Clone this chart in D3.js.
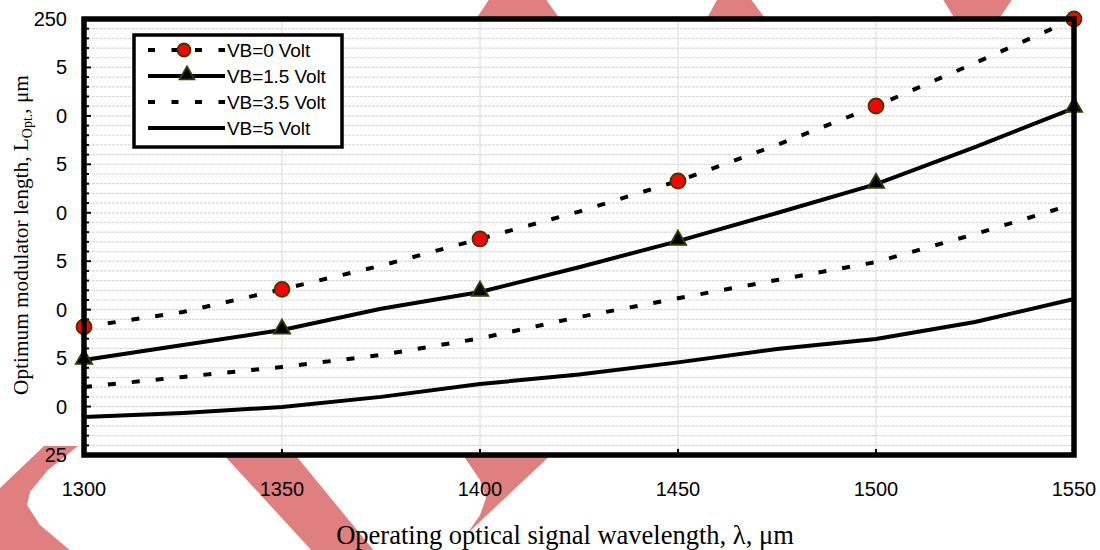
<!DOCTYPE html>
<html>
<head>
<meta charset="utf-8">
<script src="https://cdn.jsdelivr.net/npm/d3@7"></script>
<style>
  html, body { margin: 0; padding: 0; background: #fff; }
  svg { display: block; }
</style>
</head>
<body>
<svg id="chart" width="1100" height="550"></svg>
<script>
// Wavelength samples (nm) and optimum modulator length for each bias voltage
const wavelengths = [1300, 1325, 1350, 1375, 1400, 1425, 1450, 1475, 1500, 1525, 1550];
const vb0  = [91.1, 98.8, 110.5, 122.7, 136.5, 150.6, 166.4, 185.0, 205.1, 227.3, 250.0];
const vb15 = [74.0, 81.8, 89.5, 100.5, 109.1, 121.9, 135.4, 149.9, 164.8, 183.9, 204.0];
const vb35 = [60.1, 65.3, 70.4, 76.6, 85.2, 96.2, 105.9, 115.3, 124.6, 139.0, 154.5];
const vb5  = [44.6, 46.7, 49.8, 55.0, 61.6, 66.6, 72.8, 79.7, 84.9, 93.6, 105.5];

// Wavelengths that carry a marker
const markerWavelengths = [1300, 1350, 1400, 1450, 1500, 1550];

// Axis ticks and their printed labels
const xTicks = [1300, 1350, 1400, 1450, 1500, 1550];
const yTicks = [25, 50, 75, 100, 125, 150, 175, 200, 225, 250];
const yTickLabels = ["25", "0", "5", "0", "5", "0", "5", "0", "5", "250"];

const seriesNames = ["VB=0 Volt", "VB=1.5 Volt", "VB=3.5 Volt", "VB=5 Volt"];

const svg = d3.select("#chart");
const plotL = 84, plotR = 1074, plotT = 19, plotB = 455;

const x = d3.scaleLinear().domain([1300, 1550]).range([plotL, plotR]);
const y = d3.scaleLinear().domain([25, 250]).range([plotB, plotT]);

// Decorative salmon bands behind the plot
const bandColor = "#df7f7f";
const bands = [
  [[490, -2], [545, -2], [562, 22], [474, 22]],
  [[718, -2], [750, -2], [768, 22], [705, 22]],
  [[942, -2], [1013, -2], [997, 22], [957, 22]],
  [[221, 452], [293, 452], [375, 552], [313, 552]],
  [[461, 452], [554, 452], [467, 534], [480, 515], [486, 498], [480, 480]],
  [[44, 446], [78, 446], [48, 470], [30, 492], [27, 505], [40, 525], [72, 552], [0, 552], [0, 488]]
];
svg.append("g").selectAll("path").data(bands).join("path")
  .attr("d", d => d3.line()(d) + "Z")
  .attr("fill", bandColor);

// Plot area background
svg.append("rect").attr("x", plotL).attr("y", plotT)
  .attr("width", plotR - plotL).attr("height", plotB - plotT).attr("fill", "#fff");

// Minor horizontal gridlines every 5 units
const minorY = d3.range(30, 250, 5);
svg.append("g").selectAll("line").data(minorY).join("line")
  .attr("x1", plotL).attr("x2", plotR)
  .attr("y1", d => y(d)).attr("y2", d => y(d))
  .attr("stroke", "#d9d9d9").attr("stroke-width", 1.2)
  .attr("stroke-dasharray", "3,1");

// Vertical gridlines at major x ticks
svg.append("g").selectAll("line").data(xTicks.slice(1, -1)).join("line")
  .attr("x1", d => x(d)).attr("x2", d => x(d))
  .attr("y1", plotT).attr("y2", plotB)
  .attr("stroke", "#d9d9d9").attr("stroke-width", 1);

// Inward tick marks
const yMinorAll = d3.range(25, 251, 5);
svg.append("g").selectAll("line").data(yMinorAll).join("line")
  .attr("x1", plotL).attr("x2", d => plotL + (d % 25 === 0 ? 7 : 5))
  .attr("y1", d => y(d)).attr("y2", d => y(d))
  .attr("stroke", "#000").attr("stroke-width", 2);
svg.append("g").selectAll("line").data(xTicks).join("line")
  .attr("x1", d => x(d)).attr("x2", d => x(d))
  .attr("y1", plotB).attr("y2", plotB - 6)
  .attr("stroke", "#000").attr("stroke-width", 2);

// Series lines
const line = d3.line().x((d, i) => x(wavelengths[i])).y(d => y(d));
const seriesData = [vb0, vb15, vb35, vb5];
const dashes = ["8,16", null, "8,16", null];
seriesData.forEach((s, k) => {
  svg.append("path").datum(s)
    .attr("d", line)
    .attr("fill", "none")
    .attr("stroke", "#000")
    .attr("stroke-width", 4)
    .attr("stroke-dasharray", dashes[k]);
});

// Markers
const triangle = d3.symbol().type(d3.symbolTriangle).size(115);
const markerIdx = markerWavelengths.map(w => wavelengths.indexOf(w));
svg.append("g").selectAll("path").data(markerIdx).join("path")
  .attr("d", triangle)
  .attr("transform", i => `translate(${x(wavelengths[i])},${y(vb15[i]) - 1})`)
  .attr("fill", "#000").attr("stroke", "#3b3b00").attr("stroke-width", 1.8);
svg.append("g").selectAll("circle").data(markerIdx).join("circle")
  .attr("cx", i => x(wavelengths[i])).attr("cy", i => y(vb0[i]))
  .attr("r", 7.5)
  .attr("fill", "#ff0000").attr("stroke", "#3b3b00").attr("stroke-width", 1.8);

// Plot frame
svg.append("rect").attr("x", plotL).attr("y", plotT)
  .attr("width", plotR - plotL).attr("height", plotB - plotT)
  .attr("fill", "none").attr("stroke", "#000").attr("stroke-width", 5.5);

// Tick labels
svg.append("g").selectAll("text").data(xTicks).join("text")
  .attr("x", d => x(d)).attr("y", 496)
  .attr("text-anchor", "middle")
  .attr("font-family", "Liberation Sans, Arial, sans-serif")
  .attr("font-size", 20)
  .text(d => d);
svg.append("g").selectAll("text").data(yTicks).join("text")
  .attr("x", 67).attr("y", d => y(d) + 7)
  .attr("text-anchor", "end")
  .attr("font-family", "Liberation Sans, Arial, sans-serif")
  .attr("font-size", 20)
  .text((d, i) => yTickLabels[i]);

// Axis titles
svg.append("text")
  .attr("x", 565).attr("y", 544)
  .attr("text-anchor", "middle")
  .attr("font-family", "Liberation Serif, Times New Roman, serif")
  .attr("font-size", 26.5)
  .text("Operating optical signal wavelength, λ, μm");

const yTitle = svg.append("text")
  .attr("transform", "translate(28,235) rotate(-90)")
  .attr("text-anchor", "middle")
  .attr("font-family", "Liberation Serif, Times New Roman, serif")
  .attr("font-size", 21.3);
yTitle.append("tspan").text("Optimum modulator length, L");
yTitle.append("tspan").attr("font-size", 14).attr("dy", 4).text("Opt.");
yTitle.append("tspan").attr("dy", -4).text(", μm");

// Legend
const lg = svg.append("g");
lg.append("rect").attr("x", 134).attr("y", 35).attr("width", 208).attr("height", 112)
  .attr("fill", "#fff").attr("stroke", "#000").attr("stroke-width", 3.5);
const legendY = [50, 76, 102, 128];
seriesNames.forEach((name, k) => {
  lg.append("line").attr("x1", 148).attr("x2", 225)
    .attr("y1", legendY[k]).attr("y2", legendY[k])
    .attr("stroke", "#000").attr("stroke-width", 4)
    .attr("stroke-dasharray", dashes[k] ? "7,16.5" : null);
  lg.append("text").attr("x", 227).attr("y", legendY[k] + 7)
    .attr("font-family", "Liberation Sans, Arial, sans-serif")
    .attr("font-size", 19)
    .attr("letter-spacing", -0.1)
    .text(name);
});
lg.append("circle").attr("cx", 184).attr("cy", legendY[0]).attr("r", 6.5)
  .attr("fill", "#ff0000").attr("stroke", "#3b3b00").attr("stroke-width", 1.8);
lg.append("path").attr("d", d3.symbol().type(d3.symbolTriangle).size(95))
  .attr("transform", `translate(187,${legendY[1] - 1})`)
  .attr("fill", "#000").attr("stroke", "#3b3b00").attr("stroke-width", 1.8);
</script>
</body>
</html>
